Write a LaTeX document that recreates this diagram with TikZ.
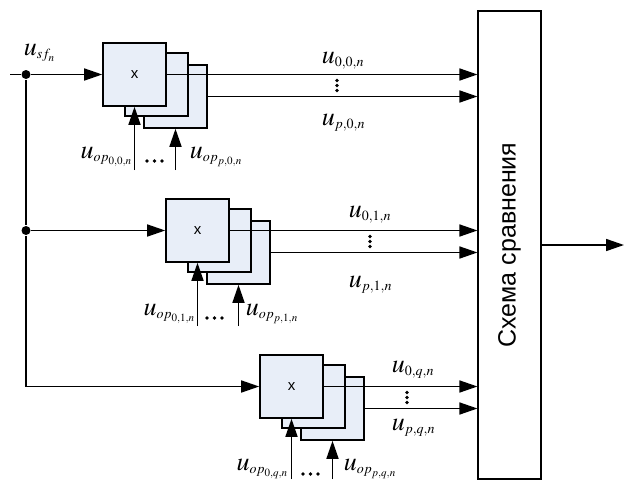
\documentclass[tikz,border=0pt]{standalone}
\usepackage{mathptmx}
\usepackage[no-math]{fontspec}
\newfontfamily\arialfont{Liberation Sans}
\usetikzlibrary{arrows.meta}
\DeclareMathSizes{26}{26}{14}{11}
\definecolor{boxfill}{RGB}{232,238,248}

\begin{document}
\begin{tikzpicture}[x=1pt,y=-1pt,
  line width=1.6pt,
  arr/.style={-{Triangle[length=18pt,width=12pt]}},
  mulbox/.style={draw, fill=boxfill, minimum width=63pt, minimum height=63pt,
    inner sep=0pt, font=\arialfont\fontsize{15}{15}\selectfont},
  lab/.style={inner sep=0pt, font=\fontsize{26}{28}\selectfont},
  jdot/.style={circle, fill, inner sep=0pt, minimum size=9pt},
  pt/.style={circle, fill, inner sep=0pt, minimum size=3.6pt}]
\useasboundingbox (0,0) rectangle (624,482);

% comparison block
\node[draw, line width=1.1pt, minimum width=63pt, minimum height=468pt, inner sep=0pt] (cmp) at (509.5,245) {};
\node[rotate=90, inner sep=0pt, font=\arialfont\fontsize{25}{25}\selectfont] (cmpt) at (cmp.center) {Схема сравнения};
\coordinate (out) at (624,245);
\draw[arr] (cmp.east) -- (out);

% multiplier stacks (back to front)
\foreach \g/\x/\y in {1/134.5/74.5, 2/197.5/230.5, 3/291.5/386.5}{
  \node[mulbox] (g\g c) at (\x+41,\y+22) {};
  \node[mulbox] (g\g b) at (\x+22,\y+10) {};
  \node[mulbox] (g\g a) at (\x,\y) {x};
}

% input distribution
\coordinate (start) at (10,74.5);
\node[jdot] (j1) at (26,74.5) {};
\node[jdot] (j2) at (26,230.5) {};
\coordinate (corner) at (26,386.5);
\draw (start) -- (j1);
\draw (j1) -- (j2) -- (corner);
\draw[arr] (j1) -- (g1a);
\draw[arr] (j2) -- (g2a);
\draw[arr] (corner) -- (g3a.west);

% outputs to the comparison block
\foreach \g in {1,2,3}{
  \draw[arr] (g\g a.east) -- (g\g a.east -| cmp.west);
  \draw[arr] (g\g c.east) -- (g\g c.east -| cmp.west);
}

% reference inputs from below
\coordinate (r1a) at (134.5,170);
\coordinate (r1c) at (175.5,170);
\coordinate (r2a) at (197.5,326);
\coordinate (r2c) at (238.5,326);
\coordinate (r3a) at (291.5,479);
\coordinate (r3c) at (332.5,479);
\foreach \g in {1,2,3}{
  \draw[arr] (r\g a) -- (g\g a.south);
  \draw[arr] (r\g c) -- (g\g c.south);
}

% vertical ellipses between output lines
\foreach \n/\x/\ya/\yb in {1/337/74.5/96.5, 2/370/230.5/252.5, 3/407/386.5/408.5}{
  \node[pt] (v\n a) at (\x,{\ya+6}) {};
  \node[pt] (v\n b) at (\x,{(\ya+\yb)/2}) {};
  \node[pt] (v\n c) at (\x,{\yb-6}) {};
}
% horizontal ellipses between reference inputs
\foreach \n/\x/\y in {1/147/161, 2/207/318, 3/303/474}{
  \node[pt] (h\n a) at (\x,\y) {};
  \node[pt] (h\n b) at (\x+7.5,\y) {};
  \node[pt] (h\n c) at (\x+15,\y) {};
}

% labels
\node[lab, anchor=base west] (lsf) at (23,55) {$u_{sf_n}$};

\node[lab, anchor=base west] (l00) at (321,63) {$u_{0,0,n}$};
\node[lab, anchor=base west] (lp0) at (321,125) {$u_{p,0,n}$};
\node[lab, anchor=base east] (lo00) at (133,158) {$u_{op_{0,0,n}}$};
\node[lab, anchor=base west] (lop0) at (189,158) {$u_{op_{p,0,n}}$};

\node[lab, anchor=base west] (l01) at (348,217) {$u_{0,1,n}$};
\node[lab, anchor=base west] (lp1) at (348,287) {$u_{p,1,n}$};
\node[lab, anchor=base east] (lo01) at (196,315) {$u_{op_{0,1,n}}$};
\node[lab, anchor=base west] (lop1) at (245,315) {$u_{op_{p,1,n}}$};

\node[lab, anchor=base west] (l0q) at (391,372) {$u_{0,q,n}$};
\node[lab, anchor=base west] (lpq) at (391,430) {$u_{p,q,n}$};
\node[lab, anchor=base east] (lo0q) at (289,470) {$u_{op_{0,q,n}}$};
\node[lab, anchor=base west] (lopq) at (343,470) {$u_{op_{p,q,n}}$};
\end{tikzpicture}
\end{document}
